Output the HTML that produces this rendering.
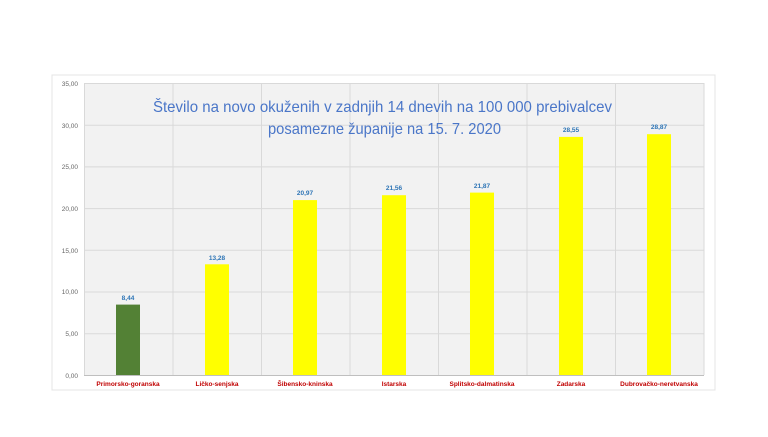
<!DOCTYPE html>
<html><head><meta charset="utf-8"><style>
body{margin:0;width:768px;height:432px;background:#fff;overflow:hidden;font-family:"Liberation Sans",sans-serif}
</style></head><body>
<svg width="768" height="432" xmlns="http://www.w3.org/2000/svg" font-family="Liberation Sans, sans-serif">
<rect x="52" y="75" width="663" height="315" fill="#fff" stroke="#e4e4e4"/>
<rect x="84" y="83" width="620" height="292" fill="#f2f2f2"/>
<g stroke="#d9d9d9" stroke-width="1">
<line x1="84" x2="704" y1="83.5" y2="83.5"/><line x1="84" x2="704" y1="125.2" y2="125.2"/>
<line x1="84" x2="704" y1="166.9" y2="166.9"/><line x1="84" x2="704" y1="208.6" y2="208.6"/>
<line x1="84" x2="704" y1="250.3" y2="250.3"/><line x1="84" x2="704" y1="292" y2="292"/>
<line x1="84" x2="704" y1="333.7" y2="333.7"/>
<line x1="84.5" x2="84.5" y1="83" y2="375"/><line x1="173" x2="173" y1="83" y2="375"/>
<line x1="261.5" x2="261.5" y1="83" y2="375"/><line x1="350" x2="350" y1="83" y2="375"/>
<line x1="438.5" x2="438.5" y1="83" y2="375"/><line x1="527" x2="527" y1="83" y2="375"/>
<line x1="615.5" x2="615.5" y1="83" y2="375"/><line x1="704" x2="704" y1="83" y2="375"/>
</g>
<line x1="84" x2="704" y1="375.5" y2="375.5" stroke="#bfbfbf"/>
<g font-size="6.5" fill="#666" text-anchor="end">
<text x="78" y="86">35,00</text><text x="78" y="128">30,00</text><text x="78" y="169">25,00</text>
<text x="78" y="211">20,00</text><text x="78" y="253">15,00</text><text x="78" y="294">10,00</text>
<text x="78" y="336">5,00</text><text x="78" y="378">0,00</text>
</g>
<rect x="116" y="304.6" width="24" height="70.4" fill="#538135"/>
<rect x="205" y="264.3" width="24" height="110.7" fill="#ffff00"/>
<rect x="293" y="200.1" width="24" height="174.9" fill="#ffff00"/>
<rect x="382" y="195.2" width="24" height="179.8" fill="#ffff00"/>
<rect x="470" y="192.6" width="24" height="182.4" fill="#ffff00"/>
<rect x="559" y="136.9" width="24" height="238.1" fill="#ffff00"/>
<rect x="647" y="134.2" width="24" height="240.8" fill="#ffff00"/>
<g font-size="6.5" fill="#2e75b6" font-weight="bold" text-anchor="middle">
<text x="128" y="300">8,44</text><text x="217" y="260">13,28</text><text x="305" y="195">20,97</text>
<text x="394" y="190">21,56</text><text x="482" y="188">21,87</text><text x="571" y="132">28,55</text>
<text x="659" y="129">28,87</text>
</g>
<g font-size="6.5" fill="#c00000" font-weight="bold" text-anchor="middle">
<text x="128" y="386">Primorsko-goranska</text><text x="217" y="386">Ličko-senjska</text>
<text x="305" y="386">Šibensko-kninska</text><text x="394" y="386">Istarska</text>
<text x="482" y="386">Splitsko-dalmatinska</text><text x="571" y="386">Zadarska</text>
<text x="659" y="386">Dubrovačko-neretvanska</text>
</g>
<g font-size="16" fill="#4a76c8">
<text x="153" y="112" textLength="459" lengthAdjust="spacingAndGlyphs">Število na novo okuženih v zadnjih 14 dnevih na 100 000 prebivalcev</text>
<text x="268" y="134" textLength="233" lengthAdjust="spacingAndGlyphs">posamezne županije na 15. 7. 2020</text>
</g>
</svg>
</body></html>
